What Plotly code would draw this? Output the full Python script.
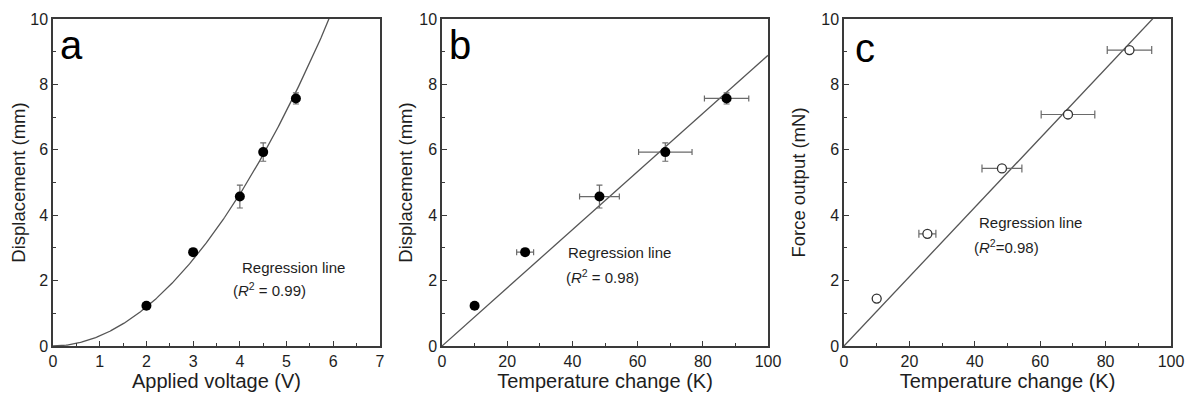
import numpy as np
import plotly.graph_objects as go

# ---- data ----
voltage = [2, 3, 4, 4.5, 5.2]
disp = [1.23, 2.87, 4.57, 5.93, 7.57]
disp_err = [0.06, 0.08, 0.35, 0.28, 0.17]

temp = [10, 25.5, 48.3, 68.5, 87.3]
temp_err = [0.0, 2.6, 6.1, 8.2, 6.8]

force = [1.45, 3.43, 5.43, 7.08, 9.05]
force_err = [0.06, 0.05, 0.05, 0.05, 0.05]
force_temp_err = [0.6, 2.6, 6.1, 8.2, 6.8]

# regression parameters
pow_a, pow_b = 0.307, 1.96        # panel a: y = a * x^b
slope_b = 0.0889                  # panel b: y = k * T
slope_c = 0.106                   # panel c: y = k * T

panel_labels = ["a", "b", "c"]
x_titles = ["Applied voltage (V)", "Temperature change (K)", "Temperature change (K)"]
y_titles = ["Displacement (mm)", "Displacement (mm)", "Force output (mN)"]
r2_texts = ["(<i>R</i><sup>2</sup> = 0.99)", "(<i>R</i><sup>2</sup> = 0.98)", "(<i>R</i><sup>2</sup>=0.98)"]

W, H = 1188, 397
FONT = "Liberation Sans, Arial, sans-serif"
AX = "#3a3a3a"
LINE = "#555555"
ERR = "#6a6a6a"
TXT = "#1e1e1e"

fig = go.Figure()

# panel a
xa = np.linspace(0, 7, 300)
ya = pow_a * xa ** pow_b
fig.add_trace(go.Scatter(x=xa, y=ya, mode="lines", line=dict(color=LINE, width=1.3),
                         xaxis="x", yaxis="y", showlegend=False))
fig.add_trace(go.Scatter(x=voltage, y=disp, mode="markers",
                         marker=dict(color="black", size=10),
                         error_y=dict(type="data", array=disp_err, color=ERR, thickness=1.2, width=3),
                         xaxis="x", yaxis="y", showlegend=False))

# panel b
xb = np.linspace(0, 100, 50)
fig.add_trace(go.Scatter(x=xb, y=slope_b * xb, mode="lines", line=dict(color=LINE, width=1.3),
                         xaxis="x2", yaxis="y2", showlegend=False))
fig.add_trace(go.Scatter(x=temp, y=disp, mode="markers",
                         marker=dict(color="black", size=10),
                         error_y=dict(type="data", array=disp_err, color=ERR, thickness=1.2, width=3),
                         error_x=dict(type="data", array=temp_err, color=ERR, thickness=1.2, width=3),
                         xaxis="x2", yaxis="y2", showlegend=False))

# panel c
xc = np.linspace(0, 100, 50)
fig.add_trace(go.Scatter(x=xc, y=slope_c * xc, mode="lines", line=dict(color=LINE, width=1.3),
                         xaxis="x3", yaxis="y3", showlegend=False))
fig.add_trace(go.Scatter(x=temp, y=force, mode="markers",
                         marker=dict(color="white", size=9, line=dict(color="#333333", width=1.3)),
                         error_y=dict(type="data", array=force_err, color=ERR, thickness=1.2, width=3),
                         error_x=dict(type="data", array=force_temp_err, color=ERR, thickness=1.2, width=4),
                         xaxis="x3", yaxis="y3", showlegend=False))

doms = [(53, 380), (442, 768), (844, 1171)]
xranges = [[0, 7], [0, 100], [0, 100]]
xdticks = [1, 20, 20]
ystand = [0, 2, 11]

layout = dict(
    width=W, height=H,
    margin=dict(l=0, r=0, t=19, b=51),
    paper_bgcolor="white", plot_bgcolor="white",
    font=dict(family=FONT, size=16, color=TXT),
    showlegend=False,
)

for i in range(3):
    sx = "" if i == 0 else str(i + 1)
    x0, x1 = doms[i]
    layout["xaxis" + sx] = dict(
        domain=[x0 / W, x1 / W], range=xranges[i], dtick=xdticks[i], tick0=0,
        anchor="y" + sx, showline=True, mirror=True, linecolor=AX, linewidth=1.5,
        ticks="inside", ticklen=5, tickwidth=1.2, tickcolor=AX,
        minor=dict(ticks="inside", ticklen=3, tickwidth=1.2, tickcolor=AX, dtick=xdticks[i] / 2),
        showgrid=False, zeroline=False, automargin=False,
        tickfont=dict(size=16, family=FONT, color=TXT),
        title=dict(text=x_titles[i], font=dict(size=20, family=FONT, color=TXT), standoff=2),
    )
    layout["yaxis" + sx] = dict(
        domain=[0, 1], range=[0, 10], dtick=2, tick0=0,
        anchor="x" + sx, showline=True, mirror=True, linecolor=AX, linewidth=1.5,
        ticks="inside", ticklen=5, tickwidth=1.2, tickcolor=AX,
        minor=dict(ticks="inside", ticklen=3, tickwidth=1.2, tickcolor=AX, dtick=1),
        showgrid=False, zeroline=False, automargin=False,
        tickfont=dict(size=16, family=FONT, color=TXT),
        title=dict(text=y_titles[i], font=dict(size=18.5, family=FONT, color=TXT), standoff=ystand[i]),
    )

fig.update_layout(**layout)

# annotations
label_pos = [(0.1, 9.2), (1.5, 9.2), (2.8, 9.1)]
reg_pos = [(4.0, 2.4), (38, 2.87), (40.7, 3.78)]
r2_pos = [(3.8, 1.72), (37.5, 2.14), (39.2, 3.05)]
for i in range(3):
    sx = "" if i == 0 else str(i + 1)
    fig.add_annotation(x=label_pos[i][0], y=label_pos[i][1], xref="x" + sx, yref="y" + sx,
                       text=panel_labels[i], showarrow=False, xanchor="left", yanchor="middle",
                       font=dict(size=40, family=FONT, color="black"))
    fig.add_annotation(x=reg_pos[i][0], y=reg_pos[i][1], xref="x" + sx, yref="y" + sx,
                       text="Regression line", showarrow=False, xanchor="left", yanchor="middle",
                       font=dict(size=15, family=FONT, color=TXT))
    fig.add_annotation(x=r2_pos[i][0], y=r2_pos[i][1], xref="x" + sx, yref="y" + sx,
                       text=r2_texts[i], showarrow=False, xanchor="left", yanchor="middle",
                       font=dict(size=15, family=FONT, color=TXT))

fig.write_html("out.html", config={"displayModeBar": False},
               post_script="document.body.style.margin='0px';document.body.style.padding='0px';")
